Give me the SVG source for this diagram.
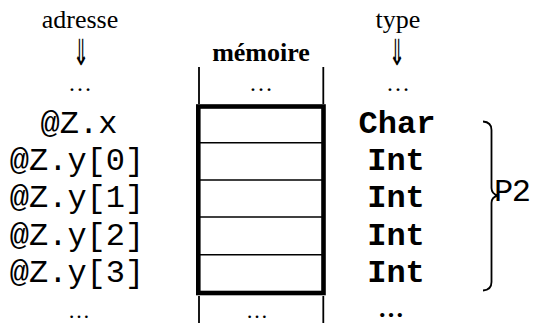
<svg xmlns="http://www.w3.org/2000/svg" width="533" height="323" viewBox="0 0 533 323">
<style>
.serif{font-family:"Liberation Serif","DejaVu Serif",serif;fill:#000}
.mono{font-family:"Liberation Mono","DejaVu Sans Mono",monospace;font-size:32px;fill:#000}
.b{font-weight:bold}
.arrow{font-family:"DejaVu Sans","Liberation Serif",serif;font-size:36px;fill:#000}
.thin{stroke:#000;stroke-width:1.8;fill:none}
.div{stroke:#000;stroke-width:1.6;fill:none}
</style>
<rect width="533" height="323" fill="#fff"/>
<g id="headers" text-anchor="middle">
  <text class="serif" x="80" y="28" font-size="26">adresse</text>
  <text class="arrow" transform="translate(81,0) scale(0.55,1)" x="0" y="65">⇓</text>
  <text class="serif" x="80" y="91" font-size="24">…</text>
  <text class="serif b" x="261" y="61" font-size="26">mémoire</text>
  <text class="serif" x="261" y="91" font-size="24">…</text>
  <text class="serif" x="398" y="28" font-size="26">type</text>
  <text class="arrow" transform="translate(397,0) scale(0.55,1)" x="0" y="65">⇓</text>
  <text class="serif" x="398" y="91" font-size="24">…</text>
</g>
<g id="memory">
  <line class="thin" x1="199" y1="67" x2="199" y2="104"/>
  <line class="thin" x1="323.3" y1="67" x2="323.3" y2="104"/>
  <rect x="198.3" y="106.5" width="125.2" height="186.5" fill="none" stroke="#000" stroke-width="4.6"/>
  <line class="div" x1="196" y1="142.7" x2="322" y2="142.7"/>
  <line class="div" x1="200" y1="180" x2="322" y2="180"/>
  <line class="div" x1="200" y1="217" x2="322" y2="217"/>
  <line class="div" x1="196" y1="254.7" x2="322" y2="254.7"/>
  <line class="thin" x1="199" y1="296" x2="199" y2="323"/>
  <line class="thin" x1="323.3" y1="296" x2="323.3" y2="323"/>
</g>
<g id="addresses" text-anchor="middle">
  <text class="mono" x="79" y="133">@Z.x</text>
  <text class="mono" x="77" y="170">@Z.y[0]</text>
  <text class="mono" x="77" y="207">@Z.y[1]</text>
  <text class="mono" x="77" y="245">@Z.y[2]</text>
  <text class="mono" x="77" y="282">@Z.y[3]</text>
  <text class="serif" x="79" y="318" font-size="22">…</text>
</g>
<g id="types" text-anchor="middle">
  <text class="mono b" x="397" y="133">Char</text>
  <text class="mono b" x="396" y="170">Int</text>
  <text class="mono b" x="396" y="207">Int</text>
  <text class="mono b" x="396" y="245">Int</text>
  <text class="mono b" x="396" y="282">Int</text>
  <text class="serif" x="257" y="318" font-size="22">…</text>
  <text class="serif b" x="391" y="317" font-size="26">…</text>
</g>
<g id="brace">
  <path class="thin" d="M483,121.5 Q491.5,122 491.5,130 L491.5,188 Q491.5,194 498,195.5 Q491.5,197 491.5,203 L491.5,282 Q491.5,290 483,290.5"/>
  <text class="mono" x="494" y="201" textLength="37">P2</text>
</g>
</svg>
